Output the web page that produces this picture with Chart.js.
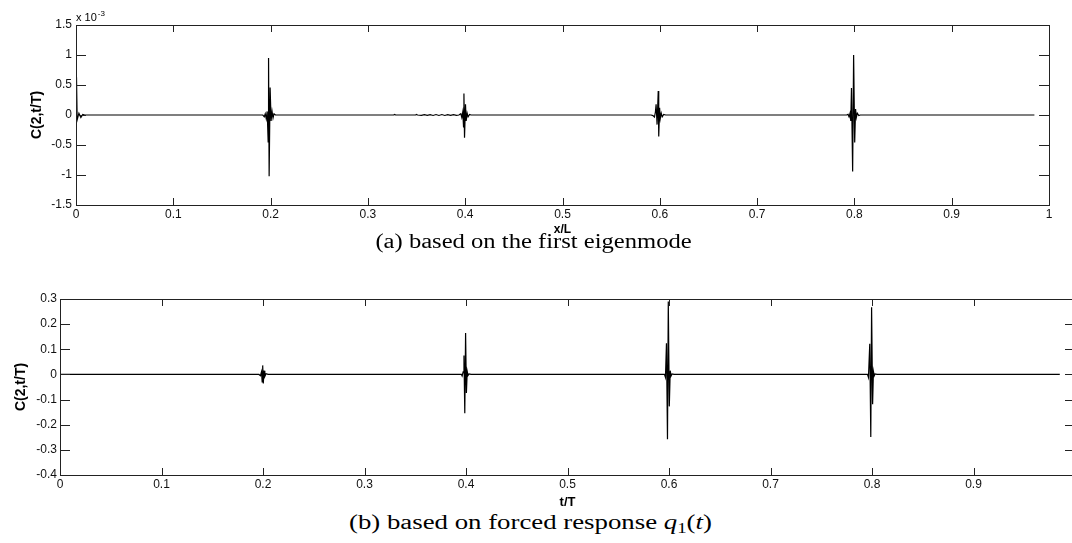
<!DOCTYPE html>
<html>
<head>
<meta charset="utf-8">
<script src="https://cdn.jsdelivr.net/npm/chart.js@4.4.0/dist/chart.umd.min.js"></script>
<style>
  html, body { margin: 0; padding: 0; background: #fff; overflow: hidden; }
  #page { position: relative; width: 1072px; height: 543px; overflow: hidden; }
  .box { position: absolute; left: 0; }
  .caption { position: absolute; left: 0; width: 1072px; text-align: center;
             font-family: 'Liberation Serif', 'Times New Roman', serif; font-size: 20px;
             line-height: 22px; color: #000; }
  .caption span { display: inline-block; white-space: nowrap; }
  .caption sub { font-size: 14px; vertical-align: -4px; line-height: 0; }
</style>
</head>
<body>
<div id="page">
  <div class="box" style="top:0; width:1072px; height:237px;"><canvas id="top" width="1072" height="237"></canvas></div>
  <div class="caption" style="top:230px; left:-2px;"><span style="transform: scaleX(1.23);">(a) based on the first eigenmode</span></div>
  <div class="box" style="top:270px; width:1100px; height:241px;"><canvas id="bottom" width="1100" height="241"></canvas></div>
  <div class="caption" style="top:511px; left:-6px;"><span style="transform: scaleX(1.34);">(b) based on forced response <i>q</i><sub>1</sub>(<i>t</i>)</span></div>
</div>
<script>
// (a) mode 1 - values in units of 1e-3
const topX = [0, 0.0005, 0.0012, 0.003, 0.005, 0.007, 0.009,
  0.192, 0.1935, 0.1945, 0.1955, 0.1965, 0.1975, 0.1979, 0.1985, 0.1995, 0.2005, 0.2015, 0.2025, 0.2035, 0.205,
  0.3265, 0.3275, 0.3285, 0.349, 0.35, 0.351, 0.355, 0.358, 0.361, 0.364, 0.367, 0.370, 0.373, 0.376, 0.379, 0.382, 0.385, 0.388, 0.391,
  0.3935, 0.3955, 0.3965, 0.3975, 0.3983, 0.3987, 0.3993, 0.4003, 0.401, 0.402, 0.403, 0.4045, 0.406,
  0.591, 0.593, 0.5945, 0.5955, 0.5962, 0.5972, 0.5984, 0.5989, 0.5998, 0.6005, 0.6015, 0.6025, 0.604, 0.606,
  0.792, 0.7935, 0.7945, 0.7955, 0.7963, 0.797, 0.7982, 0.7992, 0.8003, 0.8012, 0.802, 0.803, 0.8045, 0.806,
  0.985];
const topY = [0, 0.63, -0.08, 0.03, -0.04, 0.01, 0,
  0, -0.03, 0.02, -0.06, 0.06, -0.45, 0.95, -1.02, 0.46, -0.1, 0.06, -0.05, 0.02, 0,
  0, 0.01, 0, 0, 0.01, 0, -0.006, 0.007, -0.007, 0.007, -0.008, 0.008, -0.008, 0.008, -0.008, 0.007, -0.007, 0.007, -0.006,
  0, 0.02, -0.04, 0.05, -0.2, 0.36, -0.38, 0.18, -0.1, 0.03, -0.03, 0.01, 0,
  0, -0.01, -0.035, 0.05, 0.18, -0.16, 0.40, -0.36, 0.12, -0.06, 0.03, -0.03, 0.01, 0,
  0, 0.01, -0.03, 0.03, -0.1, 0.45, -0.94, 1.0, -0.46, 0.1, -0.04, 0.03, -0.01, 0,
  0];

// (b) forced response q1(t)
const bottomX = [0,
  0.196, 0.1975, 0.1985, 0.1992, 0.1997, 0.2003, 0.201, 0.2018, 0.203, 0.205,
  0.394, 0.3955, 0.3962, 0.3972, 0.398, 0.3988, 0.3996, 0.4004, 0.4012, 0.402, 0.403, 0.405,
  0.594, 0.5955, 0.5965, 0.5975, 0.5985, 0.5993, 0.6003, 0.6012, 0.602, 0.603, 0.605,
  0.794, 0.7955, 0.7965, 0.7978, 0.7988, 0.7996, 0.8006, 0.8014, 0.8022, 0.803, 0.805,
  0.985];
const bottomY = [0,
  0, -0.005, 0.01, -0.03, 0.036, -0.036, 0.015, -0.008, 0.003, 0,
  0, 0, -0.006, 0.01, 0.075, -0.154, 0.165, -0.074, 0.012, -0.004, 0.002, 0,
  0, 0, -0.012, 0.124, -0.258, 0.29, -0.127, 0.015, -0.006, 0.002, 0,
  0, 0, -0.012, 0.122, -0.249, 0.267, -0.119, 0.012, -0.005, 0.002, 0,
  0];

const xRange = [0, 1, 0.1];
const topYRange = [-1.5, 1.5, 0.5];
const bottomYRange = [-0.4, 0.3, 0.1];

Chart.defaults.font.family = "'Liberation Sans', Arial, sans-serif";
Chart.defaults.color = '#000';

// matlab style labels: 1 not 1.0, 0 not 0.0
const fmt = v => String(parseFloat(Number(v).toFixed(3)));

// matlab-like box with inward ticks on all four sides
const boxPlugin = {
  id: 'box',
  afterDraw(chart, args, opts) {
    const { ctx, chartArea: a, scales: { x, y } } = chart;
    ctx.save();
    ctx.strokeStyle = '#222';
    ctx.lineWidth = 1;
    ctx.strokeRect(a.left + 0.5, a.top + 0.5, a.right - a.left, a.bottom - a.top);
    ctx.beginPath();
    x.ticks.forEach(t => {
      const px = Math.round(x.getPixelForValue(t.value)) + 0.5;
      ctx.moveTo(px, a.bottom); ctx.lineTo(px, a.bottom - opts.xLen);
      ctx.moveTo(px, a.top); ctx.lineTo(px, a.top + opts.xLen);
    });
    y.ticks.forEach(t => {
      const py = Math.round(y.getPixelForValue(t.value)) + 0.5;
      ctx.moveTo(a.left, py); ctx.lineTo(a.left + opts.yLen, py);
      ctx.moveTo(a.right, py); ctx.lineTo(a.right - opts.yLen, py);
    });
    ctx.stroke();
    if (opts.exponent) {
      ctx.fillStyle = '#000';
      ctx.textBaseline = 'alphabetic';
      ctx.font = "11px 'Liberation Sans', Arial, sans-serif";
      ctx.fillText('x 10', a.left, a.top - 4);
      const w = ctx.measureText('x 10').width;
      ctx.font = "8px 'Liberation Sans', Arial, sans-serif";
      ctx.fillText(opts.exponent, a.left + w + 1, a.top - 9);
    }
    ctx.restore();
  }
};

function makeChart(id, xs, ys, yRange, cfg) {
  const points = xs.map((v, i) => ({ x: v, y: ys[i] }));
  return new Chart(document.getElementById(id), {
    type: 'line',
    data: {
      datasets: [{
        data: points,
        borderColor: '#000',
        borderWidth: 1.2,
        pointRadius: 0,
        tension: 0,
        fill: false
      }]
    },
    options: {
      responsive: false,
      animation: false,
      devicePixelRatio: 1,
      layout: { padding: cfg.padding },
      plugins: {
        legend: { display: false },
        tooltip: { enabled: false },
        box: { xLen: 7, yLen: 10, exponent: cfg.exponent }
      },
      scales: {
        x: {
          type: 'linear',
          min: xRange[0], max: xRange[1],
          grid: { display: false, drawTicks: false },
          border: { display: false },
          ticks: { stepSize: xRange[2], padding: cfg.xPad, maxRotation: 0, autoSkip: false, font: { size: 12 }, color: '#111', callback: fmt },
          title: { display: true, text: cfg.xTitle, font: { size: cfg.xTitleSize, weight: 'bold' }, padding: { top: 0, bottom: cfg.xTitlePad } },
          afterFit: s => { s.height = cfg.xHeight; }
        },
        y: {
          min: yRange[0], max: yRange[1],
          grid: { display: false, drawTicks: false },
          border: { display: false },
          ticks: { stepSize: yRange[2], padding: cfg.yPad, font: { size: 12 }, color: '#111', callback: fmt },
          title: { display: true, text: 'C(2,t/T)', font: { size: 14, weight: 'bold' }, padding: { top: cfg.yTitlePad, bottom: 0 } },
          afterFit: s => { s.width = cfg.yWidth; }
        }
      }
    },
    plugins: [boxPlugin]
  });
}

makeChart('top', topX, topY, topYRange, {
  padding: { left: 0, top: 25, right: 23, bottom: 0 },
  xHeight: 32, yWidth: 76, xPad: 2, yPad: 4, xTitle: 'x/L', xTitleSize: 12, xTitlePad: 0, yTitlePad: 29, exponent: '-3'
});

makeChart('bottom', bottomX, bottomY, bottomYRange, {
  padding: { left: 0, top: 29, right: 25, bottom: 0 },
  xHeight: 36, yWidth: 60, xPad: 2, yPad: 3, xTitle: 't/T', xTitleSize: 13, xTitlePad: 1, yTitlePad: 13, exponent: null
});
</script>
</body>
</html>
